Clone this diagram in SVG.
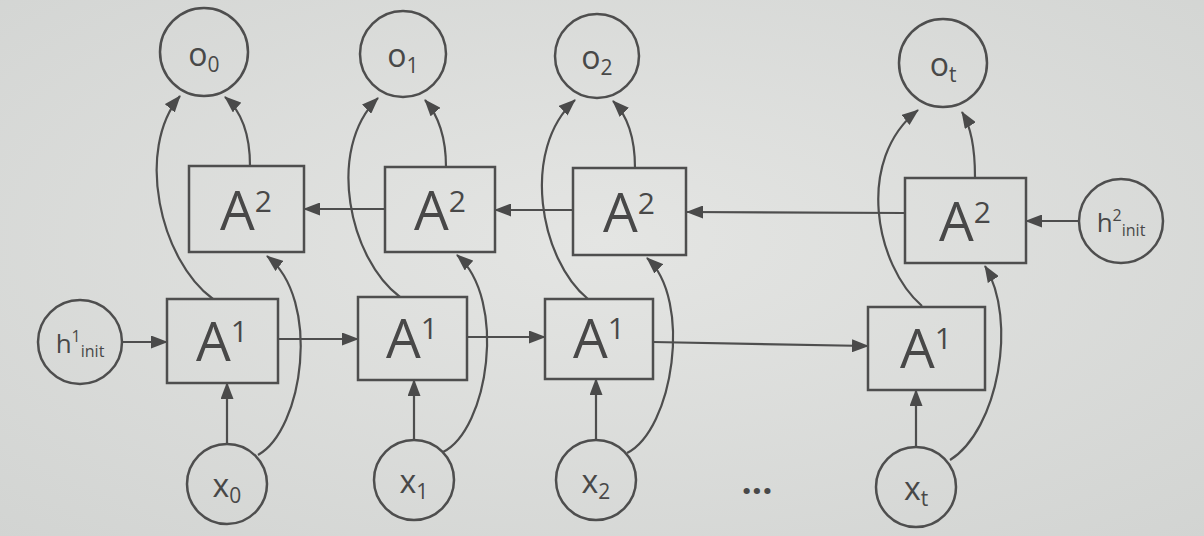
<svg xmlns="http://www.w3.org/2000/svg" width="1204" height="536" viewBox="0 0 1204 536">
<defs>
<radialGradient id="bg" cx="50%" cy="45%" r="75%">
<stop offset="0" stop-color="#e4e5e3"/>
<stop offset="1" stop-color="#d2d4d2"/>
</radialGradient>
<marker id="ah" markerUnits="userSpaceOnUse" markerWidth="17" markerHeight="13" refX="16" refY="6.5" orient="auto">
<path d="M0,0 L17,6.5 L0,13 z" fill="#4a4a4a"/>
</marker>
</defs>
<style>
.n{fill:none;stroke:#4e4e4e;stroke-width:2.5}
.e{fill:none;stroke:#4e4e4e;stroke-width:2.2;marker-end:url(#ah)}
.big{font-family:"Open Sans","DejaVu Sans",sans-serif;font-size:55px;fill:#484848}
.sup{font-size:30px}
.lab{font-family:"Open Sans","DejaVu Sans",sans-serif;font-size:32px;fill:#484848}
.sub{font-size:21px}
.hl{font-family:"Open Sans","DejaVu Sans",sans-serif;font-size:26px;fill:#484848}
.hs{font-size:16px}
.dots{font-family:"Open Sans","DejaVu Sans",sans-serif;font-size:36px;font-weight:bold;fill:#484848}
</style>
<rect width="1204" height="536" fill="url(#bg)"/>

<g id="connectors">
<line class="e" x1="123" y1="342" x2="167" y2="342"/>
<line class="e" x1="278" y1="339" x2="358" y2="339"/>
<line class="e" x1="467" y1="337" x2="545" y2="337"/>
<line class="e" x1="653" y1="342" x2="868" y2="346"/>
<line class="e" x1="1078" y1="221" x2="1026" y2="221"/>
<line class="e" x1="905" y1="213" x2="687" y2="212"/>
<line class="e" x1="573" y1="210" x2="495" y2="210"/>
<line class="e" x1="385" y1="209" x2="304" y2="209"/>
<line class="e" x1="227" y1="444" x2="227" y2="383"/>
<line class="e" x1="414" y1="440" x2="414" y2="380"/>
<line class="e" x1="596" y1="440" x2="596" y2="379"/>
<line class="e" x1="916" y1="447" x2="916" y2="390"/>
<path class="e" d="M258,455 C303,430 322,300 267,256"/>
<path class="e" d="M443,452 C488,430 508,300 457,255"/>
<path class="e" d="M627,453 C673,430 693,300 647,258"/>
<path class="e" d="M950,460 C998,430 1018,320 985,266"/>
<path class="e" d="M213,299 C160,260 135,150 180,96"/>
<path class="e" d="M400,297 C350,260 325,150 378,98"/>
<path class="e" d="M588,299 C540,260 520,150 575,100"/>
<path class="e" d="M922,306 C875,265 855,160 918,110"/>
<path class="e" d="M250,166 C250,130 240,110 225,97"/>
<path class="e" d="M446,167 C446,135 438,115 425,100"/>
<path class="e" d="M635,168 C635,135 627,115 613,101"/>
<path class="e" d="M975,177 C975,145 970,125 962,112"/>
</g>

<g id="h1init"><circle class="n" cx="80" cy="342" r="42"/><text class="hl" x="80" y="353" text-anchor="middle">h<tspan class="hs" dy="-11">1</tspan><tspan class="hs" dy="15">init</tspan></text></g>
<g id="h2init"><circle class="n" cx="1121" cy="221" r="42"/><text class="hl" x="1121" y="232" text-anchor="middle">h<tspan class="hs" dy="-11">2</tspan><tspan class="hs" dy="15">init</tspan></text></g>

<g id="A1_0"><rect class="n" x="167" y="299" width="111" height="84"/><text class="big" x="222" y="361" text-anchor="middle">A<tspan class="sup" dy="-19">1</tspan></text></g>
<g id="A1_1"><rect class="n" x="358" y="297" width="109" height="83"/><text class="big" x="412" y="358" text-anchor="middle">A<tspan class="sup" dy="-19">1</tspan></text></g>
<g id="A1_2"><rect class="n" x="545" y="299" width="108" height="80"/><text class="big" x="599" y="358" text-anchor="middle">A<tspan class="sup" dy="-19">1</tspan></text></g>
<g id="A1_t"><rect class="n" x="868" y="307" width="117" height="83"/><text class="big" x="926" y="368" text-anchor="middle">A<tspan class="sup" dy="-19">1</tspan></text></g>

<g id="A2_0"><rect class="n" x="189" y="166" width="115" height="86"/><text class="big" x="246" y="230" text-anchor="middle">A<tspan class="sup" dy="-18">2</tspan></text></g>
<g id="A2_1"><rect class="n" x="385" y="167" width="110" height="85"/><text class="big" x="440" y="230" text-anchor="middle">A<tspan class="sup" dy="-18">2</tspan></text></g>
<g id="A2_2"><rect class="n" x="573" y="168" width="113" height="87"/><text class="big" x="629" y="232" text-anchor="middle">A<tspan class="sup" dy="-18">2</tspan></text></g>
<g id="A2_t"><rect class="n" x="905" y="178" width="121" height="85"/><text class="big" x="965" y="241" text-anchor="middle">A<tspan class="sup" dy="-18">2</tspan></text></g>

<g id="o0"><circle class="n" cx="204" cy="52" r="44"/><text class="lab" x="204" y="66" text-anchor="middle">o<tspan class="sub" dy="6">0</tspan></text></g>
<g id="o1"><circle class="n" cx="403" cy="54" r="43"/><text class="lab" x="403" y="67" text-anchor="middle">o<tspan class="sub" dy="6">1</tspan></text></g>
<g id="o2"><circle class="n" cx="597" cy="56" r="42"/><text class="lab" x="597" y="69" text-anchor="middle">o<tspan class="sub" dy="6">2</tspan></text></g>
<g id="ot"><circle class="n" cx="943" cy="63" r="44"/><text class="lab" x="943" y="76" text-anchor="middle">o<tspan class="sub" dy="6">t</tspan></text></g>

<g id="x0"><circle class="n" cx="227" cy="484" r="40"/><text class="lab" x="227" y="497" text-anchor="middle">x<tspan class="sub" dy="6">0</tspan></text></g>
<g id="x1"><circle class="n" cx="414" cy="480" r="40"/><text class="lab" x="414" y="493" text-anchor="middle">x<tspan class="sub" dy="6">1</tspan></text></g>
<g id="x2"><circle class="n" cx="596" cy="480" r="40"/><text class="lab" x="596" y="493" text-anchor="middle">x<tspan class="sub" dy="6">2</tspan></text></g>
<g id="xt"><circle class="n" cx="916" cy="487" r="40"/><text class="lab" x="916" y="500" text-anchor="middle">x<tspan class="sub" dy="6">t</tspan></text></g>

<g id="ellipsis"><text class="dots" x="757" y="494" text-anchor="middle">...</text></g>
</svg>
